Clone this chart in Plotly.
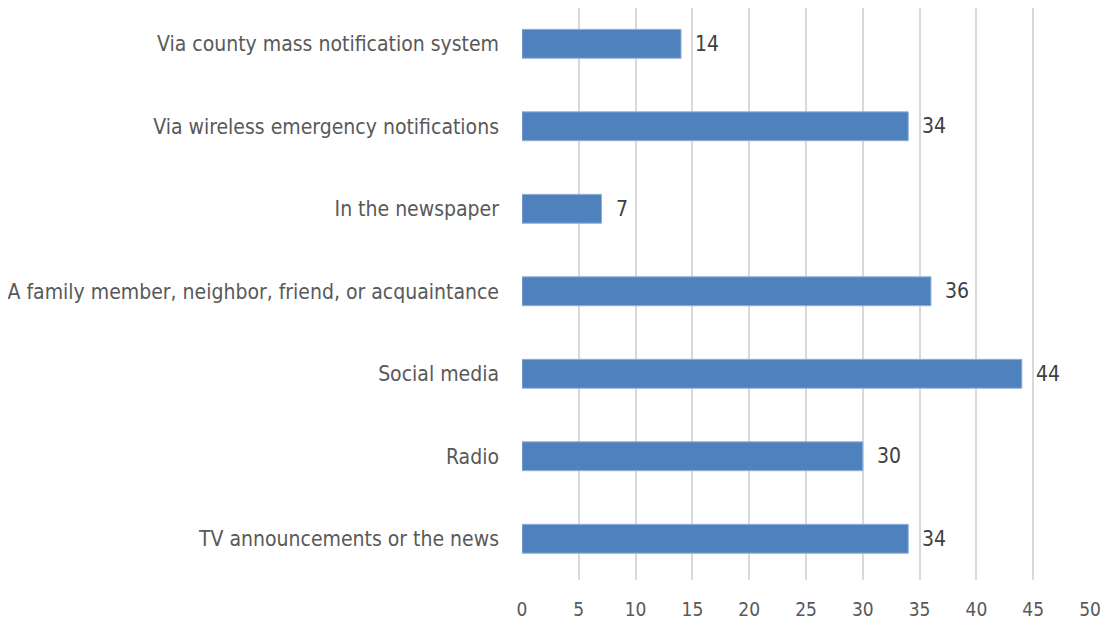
import plotly.graph_objects as go

categories = [
    "TV announcements or the news",
    "Radio",
    "Social media",
    "A family member, neighbor, friend, or acquaintance",
    "In the newspaper",
    "Via wireless emergency notifications",
    "Via county mass notification system",
]
values = [34, 30, 44, 36, 7, 34, 14]
x_ticks = [0, 5, 10, 15, 20, 25, 30, 35, 40, 45, 50]

FONT = "DejaVu Sans Condensed, Liberation Sans, sans-serif"
GREY = "#595959"

fig = go.Figure(
    go.Bar(
        x=values,
        y=categories,
        orientation="h",
        width=0.35,
        marker=dict(color="#4F81BD", line=dict(color="#8FB0DA", width=1)),
        hoverinfo="x+y",
    )
)

for c, v in zip(categories, values):
    fig.add_annotation(
        x=v, y=c, text=str(v), showarrow=False, xanchor="left", xshift=12,
        font=dict(family=FONT, size=21, color="#404040"),
    )

fig.update_layout(
    width=1094,
    height=612,
    margin=dict(l=514, r=12, t=0, b=37),
    paper_bgcolor="white",
    plot_bgcolor="white",
    showlegend=False,
    xaxis=dict(
        range=[0, 50],
        tickvals=x_ticks,
        ticktext=[str(t) for t in x_ticks],
        showgrid=True,
        gridcolor="#D9D9D9",
        gridwidth=2,
        zeroline=False,
        showline=False,
        ticks="",
        ticklabelstandoff=16,
        ticklabeloverflow="allow",
        tickfont=dict(family=FONT, size=19, color=GREY),
        fixedrange=True,
    ),
    yaxis=dict(
        range=[-0.5, 6.434],
        categoryorder="array",
        categoryarray=categories,
        showgrid=False,
        zeroline=False,
        showline=False,
        ticks="",
        ticklabelstandoff=22,
        tickfont=dict(family=FONT, size=21, color=GREY),
        fixedrange=True,
    ),
)

fig.write_html("out.html")
